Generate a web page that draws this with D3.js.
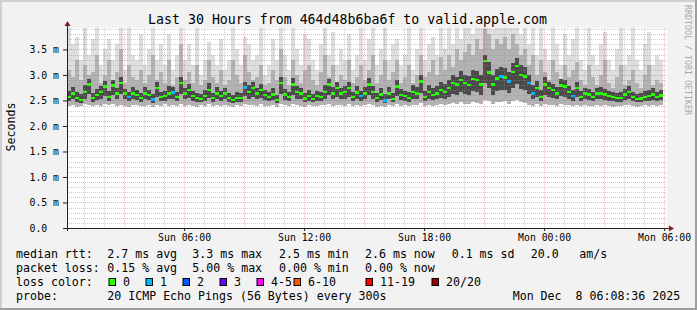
<!DOCTYPE html>
<html>
<head>
<meta charset="utf-8">
<script src="https://cdn.jsdelivr.net/npm/d3@7"></script>
<style>
body { margin: 0; background: #f2f2f2; }
svg text { font-family: "DejaVu Sans Mono", monospace; fill: #000; }
</style>
</head>
<body>
<svg id="chart" width="697" height="310"></svg>
<script>
// smokeping graph, last 30 hours, one sample every 12 minutes (ms)
var startTime = new Date(2025, 11, 7, 0, 8, 36),
    endTime   = new Date(2025, 11, 8, 6, 8, 36),
    stepMinutes = 12;

var medianRtt = [
  2.57,2.64,2.55,2.51,2.67,2.81,2.55,2.61,2.67,2.77,
  2.57,2.79,2.64,2.84,2.64,2.57,2.64,2.61,2.55,2.64,
  2.61,2.52,2.74,2.57,2.59,2.64,2.66,2.57,2.84,2.64,
  2.70,2.59,2.55,2.53,2.59,2.70,2.55,2.64,2.59,2.64,
  2.55,2.51,2.55,2.55,2.75,2.67,2.74,2.64,2.70,2.61,
  2.57,2.62,2.51,2.84,2.62,2.57,2.81,2.67,2.64,2.54,
  2.59,2.53,2.59,2.57,2.67,2.81,2.64,2.74,2.64,2.67,
  2.74,2.57,2.66,2.59,2.64,2.81,2.67,2.55,2.62,2.50,
  2.64,2.53,2.77,2.61,2.59,2.55,2.67,2.64,2.87,2.57,
  2.67,2.61,2.64,2.70,2.67,2.74,2.84,2.81,2.90,2.84,
  2.80,2.92,2.90,2.81,3.27,3.05,2.81,2.93,2.97,2.95,
  2.87,3.06,3.18,3.00,2.97,2.84,2.64,2.74,2.57,2.81,
  2.74,2.70,2.64,2.79,2.77,2.67,2.59,2.74,2.57,2.64,
  2.62,2.57,2.64,2.64,2.62,2.59,2.57,2.55,2.55,2.62,
  2.67,2.57,2.53,2.54,2.57,2.59,2.62,2.57,2.60
];
var pingMin = [
  2.40,2.42,2.38,2.40,2.43,2.41,2.39,2.42,2.40,2.44,
  2.41,2.43,2.39,2.42,2.40,2.38,2.41,2.42,2.39,2.40,
  2.42,2.37,2.41,2.40,2.43,2.39,2.41,2.40,2.44,2.39,
  2.42,2.40,2.38,2.41,2.40,2.43,2.39,2.41,2.40,2.42,
  2.39,2.38,2.41,2.40,2.43,2.41,2.42,2.40,2.43,2.39,
  2.40,2.42,2.38,2.44,2.41,2.39,2.43,2.41,2.40,2.38,
  2.41,2.39,2.40,2.42,2.41,2.44,2.40,2.42,2.41,2.40,
  2.43,2.40,2.41,2.39,2.42,2.44,2.41,2.38,2.40,2.37,
  2.41,2.39,2.43,2.40,2.41,2.39,2.42,2.41,2.45,2.40,
  2.42,2.40,2.41,2.43,2.42,2.44,2.45,2.43,2.46,2.44,
  2.43,2.47,2.45,2.44,2.50,2.48,2.44,2.47,2.46,2.48,
  2.44,2.48,2.50,2.46,2.45,2.42,2.40,2.43,2.39,2.44,
  2.42,2.41,2.40,2.43,2.42,2.41,2.39,2.42,2.40,2.41,
  2.40,2.39,2.41,2.40,2.42,2.39,2.38,2.40,2.39,2.41,
  2.42,2.39,2.38,2.40,2.41,2.40,2.42,2.39,2.41
];
var pingLow = [
  2.48,2.52,2.47,2.45,2.53,2.62,2.47,2.50,2.52,2.58,
  2.48,2.60,2.52,2.62,2.52,2.48,2.52,2.50,2.47,2.52,
  2.50,2.45,2.56,2.48,2.49,2.52,2.53,2.48,2.62,2.52,
  2.55,2.49,2.47,2.46,2.49,2.55,2.47,2.52,2.49,2.52,
  2.47,2.45,2.47,2.47,2.58,2.53,2.56,2.52,2.55,2.50,
  2.48,2.51,2.45,2.62,2.51,2.48,2.60,2.53,2.52,2.47,
  2.49,2.46,2.49,2.48,2.53,2.60,2.52,2.56,2.52,2.53,
  2.56,2.48,2.53,2.49,2.52,2.60,2.53,2.47,2.51,2.45,
  2.52,2.46,2.58,2.50,2.49,2.47,2.53,2.52,2.64,2.48,
  2.53,2.50,2.52,2.55,2.53,2.56,2.62,2.60,2.66,2.62,
  2.60,2.68,2.66,2.60,2.85,2.75,2.60,2.68,2.70,2.70,
  2.64,2.75,2.82,2.72,2.70,2.62,2.52,2.56,2.48,2.60,
  2.56,2.55,2.52,2.58,2.57,2.53,2.49,2.56,2.48,2.52,
  2.51,2.48,2.52,2.52,2.51,2.49,2.48,2.47,2.47,2.51,
  2.53,2.48,2.46,2.46,2.48,2.49,2.51,2.48,2.50
];
var pingHigh = [
  2.68,2.76,2.66,2.62,2.80,2.92,2.64,2.72,2.78,2.88,
  2.68,2.90,2.74,2.96,2.72,2.66,2.76,2.70,2.64,2.76,
  2.70,2.62,2.86,2.66,2.68,2.78,2.76,2.66,2.96,2.74,
  2.82,2.68,2.64,2.62,2.70,2.84,2.64,2.76,2.68,2.74,
  2.64,2.60,2.66,2.64,2.86,2.80,2.86,2.74,2.82,2.70,
  2.66,2.74,2.60,2.96,2.72,2.66,2.94,2.78,2.74,2.64,
  2.70,2.62,2.68,2.66,2.80,2.92,2.76,2.86,2.74,2.78,
  2.86,2.66,2.78,2.68,2.76,2.94,2.78,2.64,2.74,2.62,
  2.76,2.64,2.90,2.72,2.68,2.66,2.80,2.76,3.00,2.68,
  2.80,2.74,2.78,2.86,2.82,2.90,3.00,2.96,3.08,3.00,
  2.98,3.10,3.08,3.00,3.40,3.25,3.00,3.12,3.16,3.14,
  3.05,3.24,3.34,3.20,3.15,3.00,2.80,2.88,2.70,2.96,
  2.86,2.82,2.76,2.92,2.90,2.78,2.70,2.86,2.68,2.74,
  2.72,2.66,2.74,2.76,2.72,2.68,2.66,2.64,2.66,2.72,
  2.78,2.66,2.62,2.64,2.68,2.70,2.74,2.66,2.70
];
var pingUpper = [
  3.10,2.95,3.30,2.90,3.20,3.00,3.05,3.40,2.85,3.00,
  3.30,2.90,3.05,3.50,2.85,3.20,2.95,2.90,3.10,2.85,
  3.00,3.40,2.90,3.05,2.85,3.30,2.80,2.95,3.60,2.90,
  3.05,2.85,3.20,2.80,2.90,3.30,2.95,2.85,3.10,2.80,
  2.90,3.30,3.00,2.85,3.40,3.05,2.90,2.95,3.20,2.80,
  2.85,3.10,2.90,3.50,2.95,2.80,3.30,3.00,2.85,3.10,
  3.20,2.90,2.80,3.05,3.40,2.95,3.20,2.85,3.00,2.90,
  3.30,2.85,2.95,3.20,2.90,3.10,3.40,2.85,3.00,3.30,
  2.90,3.05,3.30,2.85,2.95,3.20,2.85,3.00,3.40,2.95,
  3.05,3.30,3.00,3.35,3.10,3.40,3.15,3.50,3.30,3.45,
  3.60,3.40,3.70,3.50,3.90,3.80,3.50,3.70,3.60,3.75,
  3.50,3.80,3.60,3.40,3.50,3.20,3.40,3.00,3.30,3.05,
  2.90,3.30,3.05,2.85,3.20,2.95,3.10,3.25,2.90,2.80,
  3.20,2.95,2.80,3.00,3.30,2.85,2.75,2.95,3.20,2.80,
  2.90,3.10,2.85,2.75,3.00,3.20,2.80,2.90,2.85
];
var pingMax = [
  3.95,3.60,3.75,3.30,3.95,3.40,3.70,3.95,3.20,3.50,
  3.70,3.30,3.60,3.95,3.10,3.95,3.40,3.30,3.80,3.20,
  3.50,3.95,3.30,3.60,3.20,3.80,3.10,3.40,3.95,3.30,
  3.60,3.20,3.95,3.00,3.30,3.65,3.40,3.20,3.70,3.10,
  3.30,3.95,3.50,3.20,3.75,3.60,3.30,3.40,3.95,3.00,
  3.20,3.70,3.30,3.95,3.40,3.10,3.95,3.50,3.20,3.80,
  3.70,3.30,3.10,3.60,3.95,3.40,3.85,3.20,3.50,3.30,
  3.80,3.10,3.40,3.95,3.30,3.70,3.95,3.20,3.50,3.95,
  3.30,3.60,3.70,3.20,3.40,3.95,3.10,3.50,3.95,3.30,
  3.60,3.75,3.40,3.95,3.50,3.95,3.60,3.95,3.70,3.95,
  3.95,3.80,3.95,3.95,3.95,3.95,3.90,3.95,3.95,3.95,
  3.95,3.95,3.95,3.80,3.95,3.60,3.95,3.40,3.95,3.50,
  3.30,3.95,3.60,3.20,3.80,3.40,3.70,3.95,3.30,3.10,
  3.95,3.40,3.20,3.60,3.85,3.30,3.10,3.50,3.95,3.20,
  3.40,3.95,3.30,3.10,3.60,3.85,3.20,3.40,3.30
];
// samples where 1 of 20 pings was lost
var lossOneSamples = [15, 21, 26, 44, 73, 79, 108, 110, 115, 116, 126];

var lossLabels = ["0", "1", "2", "3", "4-5", "6-10", "11-19", "20/20"];
var lossColors = ["#26ff00", "#00b8ff", "#0059ff", "#7000ff", "#ff00ff", "#ff5500", "#ff0000", "#a10000"];

var yTicks = [0, 0.5, 1.0, 1.5, 2.0, 2.5, 3.0, 3.5];

var titleText = "Last 30 Hours from 464d48b6ba6f to valid.apple.com";
var rttStats  = ["2.7 ms avg", "3.3 ms max", "2.5 ms min", "2.6 ms now", "0.1 ms sd", "20.0", "am/s"];
var lossStats = ["0.15 % avg", "5.00 % max", "0.00 % min", "0.00 % now"];
var probeText = "20 ICMP Echo Pings (56 Bytes) every 300s";
var stampText = "Mon Dec  8 06:08:36 2025";

// layout (window.top is read-only, so no "top" here)
var W = 697, H = 310,
    plotL = 67, plotR = 667, plotT = 28, plotB = 228;
var statCols = [107.3, 192.3, 279, 365, 451.7, 530.7, 579.3];
var boxCols = [108.5, 145.5, 182.5, 219.5, 256.5, 293.5, 365.5, 431.5];

var svg = d3.select("#chart");

var x = d3.scaleTime().domain([startTime, endTime]).range([plotL, plotR]);
var y = d3.scaleLinear().domain([0, 3.92]).range([plotB, plotT]);

function sampleTime(i) { return d3.timeMinute.offset(startTime, i * stepMinutes); }

// frame
svg.append("rect").attr("width", W).attr("height", H).attr("fill", "#f2f2f2");
svg.append("path").attr("d", "M0,310V0H697").attr("fill", "none")
  .attr("stroke", "#cfcfcf").attr("stroke-width", 4);
svg.append("path").attr("d", "M0,310H697V0").attr("fill", "none")
  .attr("stroke", "#9e9e9e").attr("stroke-width", 4);

svg.append("rect").attr("x", plotL).attr("y", plotT)
  .attr("width", plotR - plotL).attr("height", plotB - plotT).attr("fill", "#fff");

svg.append("clipPath").attr("id", "plot").append("rect")
  .attr("x", plotL).attr("y", plotT).attr("width", plotR - plotL).attr("height", plotB - plotT);

var idx = d3.range(medianRtt.length);
var smoke = svg.append("g").attr("clip-path", "url(#plot)").attr("shape-rendering", "crispEdges");

function band(lo, hi, color) {
  smoke.append("g").selectAll("rect").data(idx).join("rect")
    .attr("x", function(i) { return x(sampleTime(i)); })
    .attr("width", function(i) { return x(sampleTime(i + 1)) - x(sampleTime(i)); })
    .attr("y", function(i) { return y(hi[i]); })
    .attr("height", function(i) { return y(lo[i]) - y(hi[i]); })
    .attr("fill", color);
}
band(pingMin, pingMax, "#dedede");
band(pingMin, pingUpper, "#b2b2b2");
band(pingLow, pingHigh, "#4a4a4a");

// grid
function notMajor(v) { return Math.round(v * 10) % 5 !== 0; }
var minorY = d3.range(1, 40).map(function(k) { return k / 10; })
  .filter(function(v) { return notMajor(v) && v <= 3.92; });
var hours = d3.timeHour.range(d3.timeHour.ceil(startTime), endTime);

var grid = svg.append("g").attr("fill", "none");
function hLines(vals, color, op) {
  grid.append("g").selectAll("line").data(vals).join("line")
    .attr("x1", plotL).attr("x2", plotR)
    .attr("y1", function(d) { return Math.round(y(d)) + 0.5; })
    .attr("y2", function(d) { return Math.round(y(d)) + 0.5; })
    .attr("stroke", color).attr("stroke-opacity", op).attr("stroke-dasharray", "1,1");
}
function vLines(vals, color, op) {
  grid.append("g").selectAll("line").data(vals).join("line")
    .attr("x1", function(d) { return Math.round(x(d)) + 0.5; })
    .attr("x2", function(d) { return Math.round(x(d)) + 0.5; })
    .attr("y1", plotT).attr("y2", plotB)
    .attr("stroke", color).attr("stroke-opacity", op).attr("stroke-dasharray", "1,1");
}
hLines(minorY, "#8f8f8f", 0.45);
vLines(hours.filter(function(d) { return d.getHours() % 3 !== 0; }), "#8f8f8f", 0.45);
hLines(yTicks.slice(1), "#de4f4f", 0.45);
vLines(hours.filter(function(d) { return d.getHours() % 3 === 0; }), "#de4f4f", 0.4);

// median line, coloured by loss
smoke.append("g").selectAll("rect").data(idx).join("rect")
  .attr("x", function(i) { return x(sampleTime(i)); })
  .attr("width", function(i) { return x(sampleTime(i + 1)) - x(sampleTime(i)); })
  .attr("y", function(i) { return y(medianRtt[i]) - 1.25; })
  .attr("height", 2.5)
  .attr("fill", function(i) { return lossOneSamples.indexOf(i) >= 0 ? lossColors[1] : lossColors[0]; });

// axes
var yAxis = svg.append("g").attr("transform", "translate(" + plotL + ",0)")
  .call(d3.axisLeft(y).tickValues(yTicks).tickSize(3).tickPadding(0)
    .tickFormat(function(d) { return d === 0 ? "0.0" : d3.format(".1f")(d) + " m"; }));
yAxis.select(".domain").remove();
yAxis.selectAll("line").attr("stroke", "#1f1f1f").attr("x1", -4).attr("x2", 0);
yAxis.selectAll("text").attr("text-anchor", "start").attr("x", 29.5 - plotL)
  .attr("dy", "0.33em").style("font-size", "9.8px");

var xAxis = svg.append("g").attr("transform", "translate(0," + plotB + ")")
  .call(d3.axisBottom(x).ticks(d3.timeHour.every(6)).tickSize(3)
    .tickFormat(d3.timeFormat("%a %H:%M")));
xAxis.select(".domain").remove();
xAxis.selectAll("line").attr("stroke", "#1f1f1f");
xAxis.selectAll("text").attr("y", 13).attr("dy", 0).style("font-size", "9.8px");

svg.append("line").attr("x1", plotL + 0.5).attr("x2", plotL + 0.5).attr("y1", plotB + 3).attr("y2", 24)
  .attr("stroke", "#1f1f1f");
svg.append("line").attr("x1", plotL - 4).attr("x2", 670).attr("y1", plotB + 0.5).attr("y2", plotB + 0.5)
  .attr("stroke", "#1f1f1f");
svg.append("path").attr("d", "M64.5,26L67.5,21L70.5,26Z").attr("fill", "#801f1f");
svg.append("path").attr("d", "M669,225.5L674,228.5L669,231.5Z").attr("fill", "#801f1f");

// titles
svg.append("text").attr("x", 347.5).attr("y", 23.5).attr("text-anchor", "middle")
  .style("font-size", "13.25px").text(titleText);
svg.append("text").attr("transform", "translate(15,127) rotate(-90)").attr("text-anchor", "middle")
  .style("font-size", "11.6px").text("Seconds");
svg.append("text").attr("transform", "translate(685,5) rotate(90)")
  .style("font-size", "8.3px").style("fill", "#a8a8a8").text("RRDTOOL / TOBI OETIKER");

// legend
var legend = svg.append("g").style("font-size", "11.6px");
legend.append("text").attr("x", 16).attr("y", 258.3).text("median rtt:");
legend.append("text").attr("x", 16).attr("y", 272.3).text("packet loss:");
legend.append("text").attr("x", 16).attr("y", 286.3).text("loss color:");
legend.append("text").attr("x", 16).attr("y", 300).text("probe:");
legend.selectAll(".rs").data(rttStats).join("text")
  .attr("x", function(d, i) { return statCols[i]; }).attr("y", 258.3).text(function(d) { return d; });
legend.selectAll(".ls").data(lossStats).join("text")
  .attr("x", function(d, i) { return statCols[i]; }).attr("y", 272.3).text(function(d) { return d; });
legend.selectAll(".lb").data(lossLabels).join("rect")
  .attr("x", function(d, i) { return boxCols[i] + 0.5; }).attr("y", 278.5)
  .attr("width", 6.5).attr("height", 7)
  .attr("fill", function(d, i) { return lossColors[i]; }).attr("stroke", "#000");
legend.selectAll(".lt").data(lossLabels).join("text")
  .attr("x", function(d, i) { return boxCols[i] + 14.6; }).attr("y", 286.3).text(function(d) { return d; });
legend.append("text").attr("x", 107.3).attr("y", 300).text(probeText);
legend.append("text").attr("x", 512.7).attr("y", 300).style("white-space", "pre").text(stampText);
</script>
</body>
</html>
